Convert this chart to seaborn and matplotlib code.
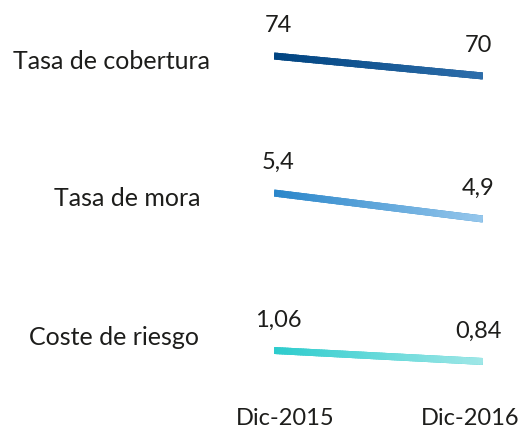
import numpy as np
import matplotlib
matplotlib.use("Agg")
import matplotlib.pyplot as plt
import matplotlib.transforms as mtransforms
from matplotlib.collections import LineCollection
from matplotlib.colors import LinearSegmentedColormap
import seaborn as sns
import pandas as pd

# ---- data ----
categories = ["Tasa de cobertura", "Tasa de mora", "Coste de riesgo"]
periods = ["Dic-2015", "Dic-2016"]
values_2015 = [74, 5.4, 1.06]
values_2016 = [70, 4.9, 0.84]
labels_2015 = ["74", "5,4", "1,06"]
labels_2016 = ["70", "4,9", "0,84"]

# ---- styling ----
start_colors = ["#004481", "#2a86ca", "#2dcccd"]
end_colors = ["#2e6eab", "#96c7ec", "#a0e7e7"]
ylims = [(61.2, 81.2), (4.112, 6.035), (-0.13, 1.87)]
axes_pix = [(20, 120), (160, 260), (310, 410)]   # top, bottom in pixels
label_pos = [(210, 69), (201, 206), (199, 345)]  # right edge, baseline (px)
xlabel_dx = [11, -13]
text_color = "#1d1d1b"

sns.set_theme(style="white")
plt.rcParams["font.family"] = ["Lato", "DejaVu Sans"]

W, H = 524, 429
fig = plt.figure(figsize=(W / 100, H / 100), dpi=100)
x0, x1 = 274, 483

axes = []
for i, cat in enumerate(categories):
    top, bot = axes_pix[i]
    ax = fig.add_axes([x0 / W, 1 - bot / H, (x1 - x0) / W, (bot - top) / H])
    df = pd.DataFrame({"period": [0, 1], "value": [values_2015[i], values_2016[i]]})
    sns.lineplot(data=df, x="period", y="value", ax=ax, color=start_colors[i],
                 linewidth=5, solid_capstyle="butt")
    # gradient overlay
    cmap = LinearSegmentedColormap.from_list("g", [start_colors[i], end_colors[i]])
    n = 80
    t = np.linspace(0, 1, n + 1)
    segs = []
    for k in range(n):
        ta, tb = t[k], min(t[k + 1] + 0.006, 1)
        ya = values_2015[i] + (values_2016[i] - values_2015[i]) * ta
        yb = values_2015[i] + (values_2016[i] - values_2015[i]) * tb
        segs.append([(ta, ya), (tb, yb)])
    lc = LineCollection(segs, colors=cmap((t[:-1] + t[1:]) / 2), linewidths=5,
                        capstyle="butt", zorder=3)
    ax.add_collection(lc)
    ax.set_xlim(0, 1)
    ax.set_ylim(*ylims[i])
    ax.axis("off")
    # value labels
    ax.annotate(labels_2015[i], xy=(0, values_2015[i]), xytext=(4, 24),
                textcoords="offset pixels", ha="center", va="baseline",
                fontsize=17, color=text_color)
    ax.annotate(labels_2016[i], xy=(1, values_2016[i]), xytext=(-5, 24),
                textcoords="offset pixels", ha="center", va="baseline",
                fontsize=17, color=text_color)
    # category label
    rx, by = label_pos[i]
    fig.text(rx / W, 1 - by / H, cat, ha="right", va="baseline",
             fontsize=18, color=text_color)
    axes.append(ax)

# period labels
bax = axes[-1]
trans = mtransforms.blended_transform_factory(bax.transData, fig.transFigure)
for j, p in enumerate(periods):
    bax.annotate(p, xy=(j, 1 - 425 / H), xycoords=trans, xytext=(xlabel_dx[j], 0),
                 textcoords="offset pixels", ha="center", va="baseline",
                 fontsize=17, color=text_color, annotation_clip=False)

fig.savefig("out.png", dpi=100)
